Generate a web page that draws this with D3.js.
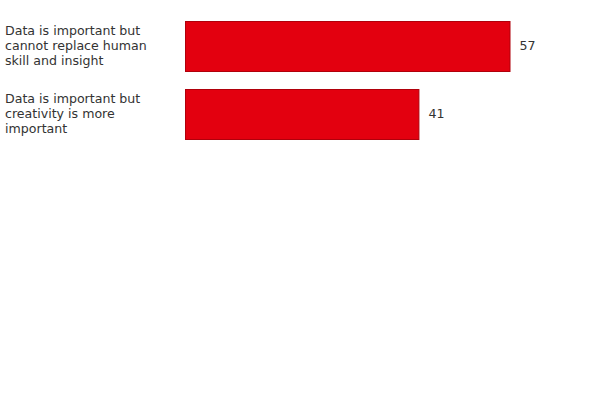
<!DOCTYPE html>
<html>
<head>
<meta charset="utf-8">
<script src="https://cdn.jsdelivr.net/npm/d3@7"></script>
<style>
  body { margin: 0; background: #fff; }
  text { font-family: "DejaVu Sans", Verdana, sans-serif; font-size: 12.6px; fill: #333; }
</style>
</head>
<body>
<script>
// chart data
var categories = [
    ["Data is important but", "cannot replace human", "skill and insight"],
    ["Data is important but", "creativity is more", "important"]
];
var values = [57, 41];

var w = 600, h = 400;

var svg = d3.select("body").append("svg")
    .attr("width", w)
    .attr("height", h);

// horizontal scale: value -> pixel
var x = d3.scaleLinear()
    .domain([0, 57])
    .range([185, 509.5]);

// band scale for rows
var y = d3.scaleBand()
    .domain(d3.range(values.length))
    .range([12, 148])
    .paddingInner(0.264)
    .paddingOuter(0.13);

var rows = svg.selectAll(".row")
    .data(values)
    .enter()
    .append("g")
    .attr("class", "row");

rows.append("rect")
    .attr("x", x(0) + 0.5)
    .attr("y", function(d, i){ return Math.round(y(i)) + 0.5; })
    .attr("width", function(d){ return x(d) - x(0); })
    .attr("height", Math.round(y.bandwidth()))
    .style("fill", "#e3000f")
    .style("stroke", "#b0000b")
    .style("stroke-width", 1);

// value labels to the right of each bar
rows.append("text")
    .attr("x", function(d){ return x(d) + 10; })
    .attr("y", function(d, i){ return y(i) + y.bandwidth() / 2; })
    .attr("dy", "0.35em")
    .text(function(d){ return d; });

// category labels, wrapped over three lines
var labels = svg.selectAll(".cat")
    .data(categories)
    .enter()
    .append("text")
    .attr("class", "cat")
    .attr("y", function(d, i){ return y(i) + y.bandwidth() / 2 - 15.5; });

labels.selectAll("tspan")
    .data(function(d){ return d; })
    .enter()
    .append("tspan")
    .attr("x", 5)
    .attr("dy", function(d, j){ return j === 0 ? "0.35em" : 15; })
    .text(function(d){ return d; });
</script>
</body>
</html>
